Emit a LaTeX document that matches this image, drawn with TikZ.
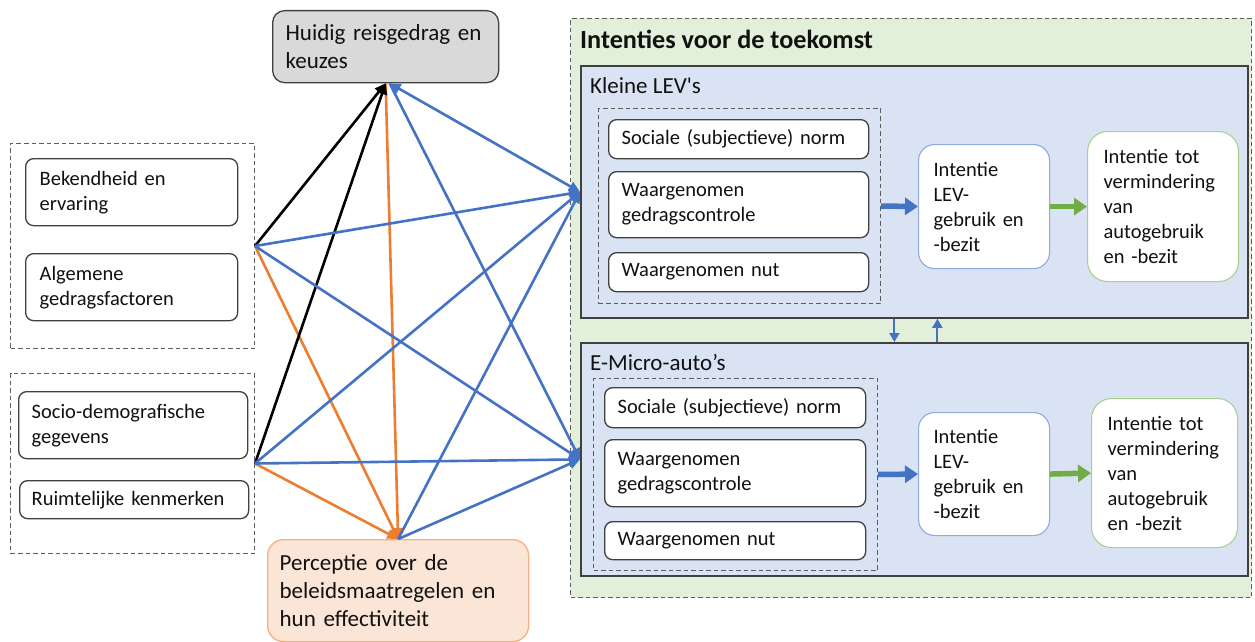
\documentclass[tikz,border=0pt]{standalone}
\usepackage{fontspec}
\setmainfont{Carlito}
\usetikzlibrary{arrows.meta}
\definecolor{cblue}{HTML}{4472C4}
\definecolor{corange}{HTML}{ED7D31}
\definecolor{cgreen}{HTML}{70AD47}
\definecolor{cgreenfill}{HTML}{E2EFDA}
\definecolor{cbluefill}{HTML}{DAE3F3}
\definecolor{cgrayfill}{HTML}{D9D9D9}
\definecolor{cperfill}{HTML}{FBE5D6}
\definecolor{cperdraw}{HTML}{F4B183}
\definecolor{cdark}{HTML}{404040}
\definecolor{cintdraw}{HTML}{8FAADC}
\definecolor{ctotdraw}{HTML}{A9D18E}
\definecolor{ctext}{HTML}{111111}
\newcommand{\myfs}{\fontsize{20.5}{25}\selectfont}
\newcommand{\myfb}{\fontsize{23}{28.3}\selectfont}
\newcommand{\myft}{\fontsize{26.2}{30}\selectfont\bfseries}
\tikzset{
  box/.style={draw=cdark, line width=1.3pt, rounded corners=8pt, fill=white,
    anchor=north west, align=left, inner xsep=13pt, inner ysep=2pt,
    font=\myfs, text=ctext},
  grp/.style={draw=cdark!85, dashed, dash pattern=on 4.5pt off 3pt, line width=1pt,
    anchor=north west, inner sep=0pt},
  panel/.style={draw=cdark, line width=1.8pt, fill=cbluefill, anchor=north west, inner sep=0pt},
  lbl/.style={anchor=west, inner sep=0pt, text=ctext},
  blk/.style={draw=black, line width=2.6pt, -{Triangle[length=11pt,width=10pt]}},
  org/.style={draw=corange, line width=2.6pt, -{Triangle[length=11pt,width=10pt]}},
  blu/.style={draw=cblue, line width=2.6pt, -{Triangle[length=11pt,width=10pt]}},
  bigblue/.style={draw=cblue, line width=5.5pt, -{Triangle[length=13pt,width=17pt]}},
  biggreen/.style={draw=cgreen, line width=5.5pt, -{Triangle[length=13pt,width=17pt]}},
  thinarr/.style={draw=cblue, line width=2pt, -{Triangle[length=9pt,width=10pt]}},
}
\begin{document}
\begin{tikzpicture}[x=1pt,y=-1pt]
\useasboundingbox (0,0) rectangle (1255,642);
\fill[white] (0,0) rectangle (1255,642);

% right green panel
\node[grp, fill=cgreenfill, minimum width=681pt, minimum height=579pt] (gp) at (570,18) {};
\node[lbl, font=\myft] (title) at (580,39) {Intenties voor de toekomst};

% Kleine LEV's panel
\node[panel, minimum width=667pt, minimum height=252pt] (kp) at (580,65) {};
\node[lbl, font=\myfb] (kl) at (590,86) {Kleine LEV\textquotesingle s};
\node[grp, minimum width=282pt, minimum height=195pt] (kd) at (598,108) {};
\node[box, minimum width=260pt, minimum height=39pt, text width=234pt, inner xsep=12pt] (k1) at (608,119) {Sociale (subjectieve) norm};
\node[box, minimum width=260pt, minimum height=66pt, text width=234pt, inner xsep=12pt] (k2) at (608,171) {Waargenomen\\gedragscontrole};
\node[box, minimum width=260pt, minimum height=39pt, text width=234pt, inner xsep=12pt] (k3) at (608,252) {Waargenomen nut};
\node[box, draw=cintdraw, line width=1.1pt, rounded corners=16pt, minimum width=131pt, minimum height=124pt, text width=101pt, inner xsep=15pt] (ki) at (918,144) {Intentie\\LEV-\\gebruik en\\-bezit};
\node[box, draw=ctotdraw, line width=1.1pt, rounded corners=20pt, minimum width=151pt, minimum height=150pt, text width=119pt, inner xsep=16pt] (kt) at (1087,131) {Intentie tot\\vermindering\\van\\autogebruik\\en -bezit};
\draw[bigblue] (kd.east) -- (ki.west);
\draw[biggreen] (ki.east) -- (kt.west);

% E-Micro panel
\node[panel, minimum width=667pt, minimum height=233pt] (ep) at (580,342) {};
\node[lbl, font=\myfb] (el) at (590,362) {E-Micro-auto’s};
\node[grp, minimum width=284pt, minimum height=192pt] (ed) at (593,378) {};
\node[box, minimum width=261pt, minimum height=40pt, text width=235pt, inner xsep=12pt] (e1) at (604,387) {Sociale (subjectieve) norm};
\node[box, minimum width=261pt, minimum height=67pt, text width=235pt, inner xsep=12pt] (e2) at (604,439) {Waargenomen\\gedragscontrole};
\node[box, minimum width=261pt, minimum height=38pt, text width=235pt, inner xsep=12pt] (e3) at (604,521) {Waargenomen nut};
\node[box, draw=cintdraw, line width=1.1pt, rounded corners=16pt, minimum width=131pt, minimum height=123pt, text width=101pt, inner xsep=15pt] (ei) at (918,412) {Intentie\\LEV-\\gebruik en\\-bezit};
\node[box, draw=ctotdraw, line width=1.1pt, rounded corners=20pt, minimum width=146pt, minimum height=149pt, text width=114pt, inner xsep=16pt] (et) at (1091,398) {Intentie tot\\vermindering\\van\\autogebruik\\en -bezit};
\draw[bigblue] (ed.east) -- (ei.west);
\draw[biggreen] (ei.east) -- (et.west);

% arrows between panels
\draw[thinarr] ([xshift=-20pt]kp.south) -- ([xshift=-20pt]ep.north);
\draw[thinarr] ([xshift=23pt]ep.north) -- ([xshift=23pt]kp.south);

% left groups
\node[grp, minimum width=244pt, minimum height=205pt] (g1) at (10,143) {};
\node[box, minimum width=212pt, minimum height=67pt, text width=184pt, inner xsep=14pt] (bek) at (25,158) {Bekendheid en\\ervaring};
\node[box, minimum width=212pt, minimum height=67pt, text width=184pt, inner xsep=14pt] (alg) at (25,253) {Algemene\\gedragsfactoren};
\node[grp, minimum width=244pt, minimum height=180pt] (g2) at (10,373) {};
\node[box, minimum width=229pt, minimum height=67pt, text width=203pt, inner xsep=13pt] (soc) at (18,391) {Socio-demografische\\gegevens};
\node[box, minimum width=229pt, minimum height=38pt, text width=205pt, inner xsep=12pt] (rui) at (19,480) {Ruimtelijke kenmerken};

% top and bottom boxes
\node[box, fill=cgrayfill, rounded corners=12pt, minimum width=226pt, minimum height=72pt, text width=200pt, inner xsep=13pt, font=\myfb] (hui) at (272,10) {Huidig reisgedrag en\\keuzes};
\node[box, fill=cperfill, draw=cperdraw, rounded corners=16pt, minimum width=261pt, minimum height=102pt, text width=237pt, inner xsep=12pt, font=\myfb] (per) at (267,539) {Perceptie over de\\beleidsmaatregelen en\\hun effectiviteit};

% connectors
\draw[org] (g1.east) -- (per.north);
\draw[org] (g2.east) -- (per.north);
\draw[org] (hui.south) -- (per.north);
\draw[blk] (g1.east) -- (hui.south);
\draw[blk] (g2.east) -- (hui.south);
\draw[blu] (g1.east) -- (kp.west);
\draw[blu] (g1.east) -- (ep.west);
\draw[blu] (g2.east) -- (kp.west);
\draw[blu] (g2.east) -- (ep.west);
\draw[blu, {Triangle[length=11pt,width=10pt]}-{Triangle[length=11pt,width=10pt]}] ([xshift=4pt]hui.south) -- (kp.west);
\draw[blu] ([xshift=4pt]hui.south) -- (ep.west);
\draw[blu] (per.north) -- (kp.west);
\draw[blu] (per.north) -- (ep.west);
\end{tikzpicture}
\end{document}
